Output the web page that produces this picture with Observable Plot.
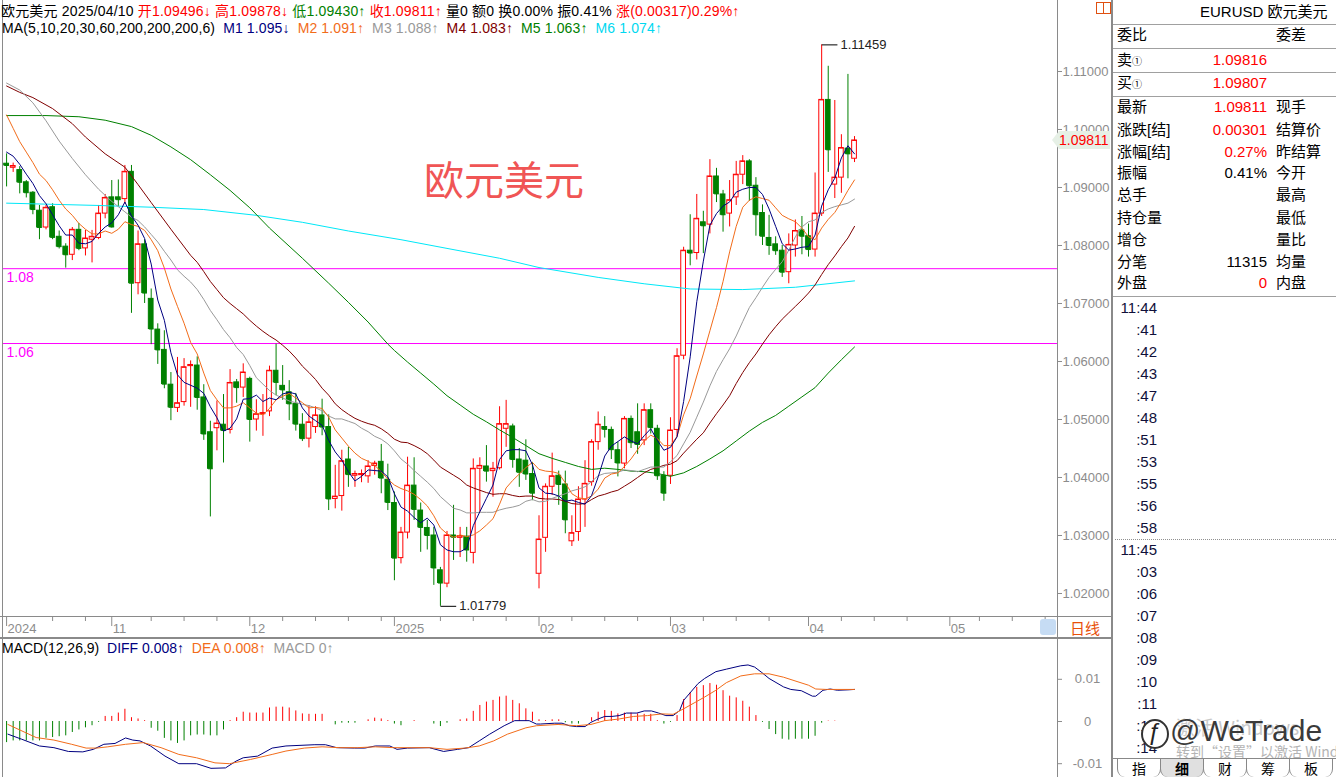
<!DOCTYPE html>
<html><head><meta charset="utf-8">
<script src="https://cdn.jsdelivr.net/npm/d3@7"></script>
<script src="https://cdn.jsdelivr.net/npm/@observablehq/plot@0.6"></script>
<style>
body{margin:0;background:#fff;width:1336px;height:777px;position:relative;overflow:hidden;font-family:"Liberation Sans",Arial,"Noto Sans CJK SC",sans-serif;}
.abs{position:absolute;white-space:nowrap;}
.hdr{font-size:14px;line-height:16px;color:#000;}
.rp{font-size:15px;line-height:20px;color:#000;font-family:"Liberation Sans","Noto Sans CJK SC",sans-serif;}
.tm{font-size:15px;line-height:20px;color:#10103a;text-align:right;width:60px;}
.tab{position:absolute;top:759px;height:18px;width:42px;font-size:14px;line-height:18px;text-align:center;font-family:"Noto Sans CJK SC",sans-serif;border-left:1px solid #888;border-right:1px solid #888;border-radius:0 0 8px 8px;}
</style></head><body>
<div id="main" class="abs" style="left:0;top:0"></div>
<div id="xaxis" class="abs" style="left:0;top:616px"></div>
<div id="macd" class="abs" style="left:0;top:638px"></div>
<div id="overlay"></div>
<script>
// ---------- DATA ----------
const open = [1.0941,1.0934,1.0930,1.0909,1.0891,1.0860,1.0831,1.0866,1.0815,1.0798,1.0784,1.0827,1.0795,1.0810,1.0813,1.0855,1.0883,1.0883,1.0880,1.0927,1.0735,1.0802,1.0708,1.0655,1.0620,1.0560,1.0520,1.0530,1.0592,1.0593,1.0538,1.0478,1.0485,1.0491,1.0482,1.0564,1.0555,1.0570,1.0500,1.0509,1.0514,1.0584,1.0558,1.0547,1.0527,1.0491,1.0467,1.0487,1.0507,1.0487,1.0363,1.0368,1.0431,1.0403,1.0404,1.0402,1.0420,1.0427,1.0396,1.0356,1.0261,1.0305,1.0386,1.0343,1.0313,1.0300,1.0240,1.0217,1.0300,1.0296,1.0298,1.0270,1.0415,1.0419,1.0411,1.0416,1.0484,1.0488,1.0431,1.0429,1.0406,1.0234,1.0296,1.0384,1.0403,1.0388,1.0290,1.0306,1.0362,1.0392,1.0461,1.0487,1.0482,1.0447,1.0424,1.0501,1.0478,1.0464,1.0516,1.0484,1.0403,1.0403,1.0482,1.0610,1.0791,1.0787,1.0840,1.0836,1.0919,1.0888,1.0855,1.0883,1.0922,1.0945,1.0903,1.0856,1.0813,1.0802,1.0791,1.0754,1.0800,1.0826,1.0816,1.0793,1.0855,1.1051,1.0905,1.0917,1.0967,1.09496];
const high = [1.0958,1.0942,1.0936,1.0912,1.0893,1.0869,1.0869,1.0872,1.0825,1.0803,1.0831,1.0838,1.0826,1.0826,1.0869,1.0888,1.0912,1.0913,1.0938,1.0938,1.0825,1.0810,1.0725,1.0665,1.0653,1.0581,1.0607,1.0605,1.0601,1.0608,1.0560,1.0497,1.0532,1.0543,1.0586,1.0569,1.0596,1.0573,1.0534,1.0543,1.0592,1.0630,1.0593,1.0567,1.0545,1.0510,1.0524,1.0522,1.0535,1.0508,1.0421,1.0447,1.0452,1.0411,1.0413,1.0429,1.0428,1.0457,1.0423,1.0375,1.0314,1.0435,1.0434,1.0356,1.0326,1.0314,1.0245,1.0307,1.0352,1.0314,1.0314,1.0432,1.0434,1.0455,1.0426,1.0522,1.0533,1.0492,1.0450,1.0465,1.0426,1.0334,1.0389,1.0442,1.0411,1.0411,1.0334,1.0384,1.0429,1.0465,1.0513,1.0505,1.0487,1.0461,1.0505,1.0506,1.0527,1.0527,1.0527,1.0490,1.0410,1.0503,1.0622,1.0797,1.0853,1.0888,1.0859,1.0948,1.0933,1.0895,1.0912,1.0945,1.0955,1.0948,1.0917,1.0870,1.0852,1.0815,1.0800,1.0820,1.0844,1.0850,1.0837,1.0925,1.11459,1.1109,1.1050,1.0991,1.1095,1.09878];
const low = [1.0901,1.0926,1.0889,1.0882,1.0853,1.0810,1.0827,1.0810,1.0794,1.0761,1.0774,1.0791,1.0782,1.0770,1.0810,1.0846,1.0830,1.0867,1.0871,1.0683,1.0715,1.0700,1.0629,1.0595,1.0553,1.0498,1.0512,1.0523,1.0521,1.0516,1.0464,1.0332,1.0446,1.0425,1.0475,1.0528,1.0538,1.0461,1.0480,1.0471,1.0505,1.0541,1.0533,1.0498,1.0480,1.0462,1.0451,1.0476,1.0472,1.0343,1.0346,1.0342,1.0383,1.0383,1.0391,1.0390,1.0404,1.0372,1.0343,1.0222,1.0251,1.0294,1.0326,1.0271,1.0275,1.0214,1.01779,1.0210,1.0257,1.0262,1.0254,1.0251,1.0340,1.0392,1.0366,1.0413,1.0452,1.0416,1.0383,1.0395,1.0360,1.0208,1.0271,1.0369,1.0352,1.0303,1.0281,1.0290,1.0314,1.0385,1.0447,1.0468,1.0431,1.0401,1.0415,1.0450,1.0440,1.0455,1.0475,1.0395,1.0359,1.0388,1.0470,1.0603,1.0765,1.0775,1.0786,1.0820,1.0874,1.0823,1.0832,1.0869,1.0905,1.0876,1.0816,1.0800,1.0783,1.0783,1.0745,1.0734,1.0780,1.0784,1.0780,1.0780,1.0850,1.0926,1.0881,1.0890,1.0915,1.09430];
const close = [1.0938,1.0937,1.0909,1.0891,1.0862,1.0831,1.0865,1.0814,1.0798,1.0784,1.0827,1.0795,1.0812,1.0815,1.0855,1.0882,1.0832,1.0879,1.0927,1.0735,1.0802,1.0718,1.0656,1.0620,1.0561,1.0521,1.0528,1.0590,1.0594,1.0538,1.0475,1.0415,1.0493,1.0481,1.0563,1.0555,1.0581,1.0500,1.0509,1.0511,1.0584,1.0564,1.0551,1.0527,1.0492,1.0467,1.0495,1.0507,1.0487,1.0363,1.0367,1.0428,1.0405,1.0406,1.0406,1.0419,1.0424,1.0399,1.0357,1.0261,1.0305,1.0386,1.0345,1.0314,1.0300,1.0244,1.0218,1.0300,1.0297,1.0299,1.0275,1.0415,1.0420,1.0411,1.0415,1.0492,1.0492,1.0431,1.0409,1.0406,1.0373,1.0293,1.0384,1.0402,1.0388,1.0327,1.0304,1.0362,1.0389,1.0461,1.0491,1.0483,1.0448,1.0425,1.0501,1.0460,1.0457,1.0516,1.0486,1.0403,1.0373,1.0481,1.0609,1.0791,1.0787,1.0846,1.0834,1.0919,1.0889,1.0853,1.0878,1.0922,1.0945,1.0903,1.0853,1.0816,1.0800,1.0791,1.0754,1.0801,1.0825,1.0816,1.0793,1.0855,1.1051,1.0965,1.0917,1.0968,1.0958,1.09811];

const ma5 = [1.0961,1.0954,1.0940,1.0923,1.0907,1.0886,1.0872,1.0853,1.0834,1.0818,1.0818,1.0804,1.0803,1.0807,1.0821,1.0832,1.0839,1.0853,1.0875,1.0851,1.0835,1.0812,1.0768,1.0706,1.0671,1.0615,1.0577,1.0564,1.0559,1.0554,1.0545,1.0522,1.0503,1.0480,1.0485,1.0501,1.0535,1.0536,1.0542,1.0531,1.0537,1.0534,1.0544,1.0547,1.0544,1.0520,1.0506,1.0498,1.0490,1.0464,1.0444,1.0430,1.0410,1.0394,1.0402,1.0413,1.0412,1.0411,1.0401,1.0372,1.0349,1.0342,1.0331,1.0322,1.0330,1.0318,1.0284,1.0275,1.0272,1.0272,1.0278,1.0317,1.0341,1.0364,1.0387,1.0431,1.0446,1.0448,1.0448,1.0446,1.0422,1.0382,1.0373,1.0372,1.0368,1.0359,1.0361,1.0357,1.0354,1.0369,1.0401,1.0437,1.0454,1.0462,1.0470,1.0463,1.0458,1.0472,1.0484,1.0464,1.0447,1.0452,1.0470,1.0531,1.0608,1.0703,1.0773,1.0835,1.0855,1.0868,1.0875,1.0892,1.0897,1.0900,1.0900,1.0888,1.0863,1.0833,1.0803,1.0792,1.0794,1.0797,1.0798,1.0818,1.0868,1.0896,1.0916,1.0951,1.0972,1.0958];
const ma10 = [1.1025,1.1002,1.0979,1.0961,1.0943,1.0923,1.0912,1.0896,1.0878,1.0863,1.0852,1.0838,1.0828,1.0820,1.0820,1.0825,1.0821,1.0828,1.0841,1.0836,1.0833,1.0826,1.0810,1.0791,1.0761,1.0725,1.0695,1.0666,1.0633,1.0613,1.0580,1.0550,1.0534,1.0520,1.0520,1.0523,1.0529,1.0520,1.0511,1.0508,1.0519,1.0534,1.0540,1.0545,1.0537,1.0529,1.0520,1.0521,1.0519,1.0504,1.0482,1.0468,1.0454,1.0442,1.0433,1.0428,1.0421,1.0410,1.0397,1.0387,1.0381,1.0377,1.0371,1.0362,1.0351,1.0334,1.0313,1.0303,1.0297,1.0301,1.0298,1.0301,1.0308,1.0318,1.0329,1.0354,1.0382,1.0395,1.0406,1.0417,1.0426,1.0414,1.0411,1.0410,1.0407,1.0391,1.0372,1.0365,1.0363,1.0368,1.0380,1.0399,1.0406,1.0408,1.0419,1.0432,1.0448,1.0463,1.0473,1.0467,1.0455,1.0455,1.0471,1.0508,1.0536,1.0575,1.0613,1.0653,1.0693,1.0738,1.0789,1.0833,1.0866,1.0878,1.0884,1.0881,1.0878,1.0865,1.0852,1.0846,1.0841,1.0830,1.0815,1.0810,1.0830,1.0845,1.0857,1.0875,1.0895,1.0913];
const ma20Early = [[0,1.1080],[2,1.1068],[4,1.1046],[6,1.1015],[8,1.0980],[10,1.0950],[12,1.0922],[14,1.0897],[16,1.0876],[18,1.0858]];
const ma20From = 19;
const ma20 = [1.0849,1.0843,1.0832,1.0819,1.0806,1.0790,1.0775,1.0758,1.0747,1.0737,1.0724,1.0707,1.0688,1.0672,1.0655,1.0641,1.0624,1.0612,1.0593,1.0572,1.0561,1.0550,1.0542,1.0537,1.0532,1.0529,1.0526,1.0524,1.0520,1.0515,1.0506,1.0501,1.0501,1.0497,1.0493,1.0485,1.0479,1.0471,1.0466,1.0458,1.0446,1.0432,1.0423,1.0412,1.0402,1.0392,1.0381,1.0367,1.0357,1.0347,1.0344,1.0339,1.0339,1.0340,1.0340,1.0340,1.0344,1.0347,1.0349,1.0352,1.0359,1.0362,1.0358,1.0359,1.0364,1.0368,1.0372,1.0377,1.0380,1.0384,1.0393,1.0403,1.0407,1.0408,1.0409,1.0413,1.0412,1.0410,1.0414,1.0418,1.0418,1.0418,1.0427,1.0438,1.0458,1.0478,1.0504,1.0530,1.0558,1.0583,1.0603,1.0622,1.0644,1.0669,1.0693,1.0710,1.0728,1.0745,1.0759,1.0772,1.0792,1.0815,1.0832,1.0841,1.0844,1.0857,1.0863,1.0867,1.0870,1.0873,1.0880];
const ma30Early = [[0,1.1075],[2,1.1064],[4,1.1055],[7,1.1036],[10,1.1010],[12,1.0987],[15,1.0958],[18,1.0935],[20,1.0905],[22,1.0874],[25,1.0828],[28,1.0783]];
const ma30From = 29;
const ma30 = [1.0771,1.0755,1.0738,1.0724,1.0710,1.0700,1.0691,1.0682,1.0671,1.0661,1.0652,1.0644,1.0637,1.0628,1.0618,1.0606,1.0592,1.0581,1.0569,1.0554,1.0542,1.0527,1.0517,1.0509,1.0502,1.0497,1.0493,1.0490,1.0484,1.0476,1.0466,1.0461,1.0460,1.0455,1.0449,1.0441,1.0430,1.0418,1.0411,1.0404,1.0397,1.0387,1.0382,1.0378,1.0374,1.0371,1.0372,1.0372,1.0369,1.0367,1.0368,1.0368,1.0364,1.0363,1.0363,1.0362,1.0359,1.0355,1.0354,1.0355,1.0362,1.0368,1.0371,1.0375,1.0378,1.0385,1.0392,1.0400,1.0408,1.0414,1.0417,1.0421,1.0423,1.0429,1.0442,1.0454,1.0466,1.0477,1.0494,1.0510,1.0525,1.0541,1.0562,1.0581,1.0598,1.0613,1.0630,1.0646,1.0660,1.0673,1.0684,1.0695,1.0706,1.0718,1.0732,1.0750,1.0767,1.0782,1.0798,1.0813,1.0833];
const ma60 = [[0,1.1024],[6,1.1024],[11,1.1022],[15,1.1016],[19,1.1005],[22,1.0990],[25,1.0970],[28,1.0948],[31,1.0922],[34,1.0895],[37,1.0865],[40,1.0830],[45,1.0778],[49,1.0735],[52,1.0702],[55,1.0668],[58,1.0630],[59,1.0619],[61,1.0599],[63,1.0580],[65,1.0561],[67,1.0541],[69,1.0525],[71,1.0509],[73,1.0496],[75,1.0482],[77,1.0469],[79,1.0455],[81,1.0441],[83,1.0433],[85,1.0426],[87,1.0419],[89,1.0414],[91,1.0416],[93,1.0414],[95,1.0411],[97,1.0410],[99,1.0407],[101,1.0402],[103,1.0408],[105,1.0419],[107,1.0432],[109,1.0446],[111,1.0463],[113,1.0480],[115,1.0495],[117,1.0507],[119,1.0523],[121,1.0539],[123,1.0555],[125,1.0580],[127,1.0603],[129,1.0625]];
const ma200 = [[0,1.0873],[14,1.0869],[22,1.0866],[30,1.0862],[38,1.0852],[45,1.0840],[52,1.0825],[60,1.0810],[67,1.0795],[75,1.0778],[81,1.0762],[90,1.0745],[97,1.0734],[104,1.0725],[112,1.0724],[120,1.0728],[129,1.0739]];

const macdHist = [-0.0050,-0.0046,-0.0046,-0.0046,-0.0046,-0.0046,-0.0040,-0.0038,-0.0036,-0.0034,-0.0026,-0.0020,-0.0015,-0.0010,-0.0002,0.0012,0.0012,0.0020,0.0029,0.0009,0.0006,0.0002,-0.0016,-0.0023,-0.0040,-0.0046,-0.0052,-0.0046,-0.0034,-0.0032,-0.0032,-0.0034,-0.0034,-0.0020,0.0002,0.0009,0.0022,0.0020,0.0020,0.0020,0.0032,0.0034,0.0034,0.0032,0.0025,0.0018,0.0017,0.0017,0.0017,0.0000,-0.0008,-0.0004,-0.0004,-0.0004,0.0000,0.0004,0.0008,0.0006,0.0002,-0.0006,-0.0010,0.0000,0.0002,0.0000,0.0000,-0.0006,-0.0012,-0.0004,0.0000,0.0004,0.0006,0.0024,0.0038,0.0046,0.0050,0.0058,0.0060,0.0050,0.0042,0.0030,0.0022,0.0004,0.0002,0.0004,0.0004,-0.0003,-0.0006,-0.0006,0.0000,0.0009,0.0022,0.0026,0.0024,0.0018,0.0020,0.0020,0.0018,0.0017,0.0017,0.0002,-0.0006,-0.0002,0.0014,0.0052,0.0068,0.0081,0.0085,0.0090,0.0086,0.0073,0.0060,0.0056,0.0048,0.0034,0.0014,-0.0002,-0.0019,-0.0031,-0.0042,-0.0044,-0.0042,-0.0042,-0.0042,-0.0035,-0.0004,0.0001,0.0001,0.0000,0.0000,0.0000];
const diffPts = [[0.2,-0.0030],[2.3,-0.0042],[5.0,-0.0058],[7.2,-0.0062],[9.4,-0.0071],[11.6,-0.0072],[13.2,-0.0066],[14.8,-0.0054],[16.5,-0.0052],[18.1,-0.0039],[19.2,-0.0044],[20.3,-0.0046],[21.9,-0.0058],[24.1,-0.0082],[26.2,-0.0100],[28.9,-0.0100],[31.1,-0.0111],[33.3,-0.0110],[34.9,-0.0094],[36.0,-0.0086],[38.2,-0.0082],[40.4,-0.0063],[42.5,-0.0058],[46.9,-0.0055],[48.5,-0.0055],[50.2,-0.0062],[52.9,-0.0063],[54.5,-0.0063],[56.1,-0.0058],[58.3,-0.0058],[59.4,-0.0066],[61.0,-0.0063],[64.3,-0.0062],[66.5,-0.0071],[68.6,-0.0066],[70.3,-0.0062],[71.9,-0.0046],[73.5,-0.0030],[75.7,-0.0010],[77.3,0.0002],[79.5,0.0002],[80.6,-0.0006],[81.2,-0.0006],[83.4,-0.0004],[84.5,-0.0004],[85.6,-0.0010],[86.7,-0.0012],[88.0,-0.0012],[88.9,-0.0002],[90.0,0.0006],[91.0,0.0012],[92.1,0.0012],[93.2,0.0014],[94.3,0.0020],[95.9,0.0020],[97.0,0.0025],[98.1,0.0025],[99.2,0.0020],[100.3,0.0014],[101.4,0.0014],[102.4,0.0026],[103.0,0.0050],[104.1,0.0070],[105.2,0.0090],[106.2,0.0102],[107.9,0.0118],[109.5,0.0124],[111.7,0.0132],[112.8,0.0134],[113.8,0.0129],[114.9,0.0116],[116.0,0.0102],[118.2,0.0082],[119.3,0.0076],[120.9,0.0073],[122.6,0.0060],[123.1,0.0060],[124.2,0.0074],[125.3,0.0077],[126.4,0.0074],[128,0.0075],[129,0.0076]];
const deaPts = [[0.2,-0.0007],[4.5,-0.0038],[7.2,-0.0044],[9.9,-0.0054],[12.1,-0.0063],[13.7,-0.0063],[15.4,-0.0060],[18.1,-0.0054],[20.8,-0.0050],[23.5,-0.0062],[26.2,-0.0078],[28.9,-0.0086],[31.7,-0.0098],[33.9,-0.0100],[37.1,-0.0090],[40.4,-0.0078],[42.5,-0.0070],[45.3,-0.0063],[48.0,-0.0060],[50.7,-0.0062],[53.4,-0.0062],[56.1,-0.0060],[58.9,-0.0062],[61.6,-0.0062],[64.3,-0.0062],[67.0,-0.0066],[69.7,-0.0063],[71.9,-0.0058],[74.1,-0.0046],[76.2,-0.0030],[79.0,-0.0015],[80.6,-0.0010],[83.9,-0.0007],[86.7,-0.0010],[88.9,-0.0007],[91.0,0.0002],[93.2,0.0006],[95.4,0.0012],[97.5,0.0014],[99.7,0.0018],[101.4,0.0017],[103.0,0.0030],[104.6,0.0044],[106.2,0.0058],[107.9,0.0074],[109.5,0.0092],[111.7,0.0108],[113.8,0.0113],[116.0,0.0113],[118.2,0.0105],[120.4,0.0094],[122.0,0.0086],[123.1,0.0077],[124.7,0.0076],[129,0.0076]];

const priceTicks = [1.02,1.03,1.04,1.05,1.06,1.07,1.08,1.09,1.10,1.11];
const macdTicks = [0.01,0,-0.01];
const macdTickLabels = ["0.01","0","-0.01"];
const monthTickIdx = [0,16,37,59,81,101,122,143.5];
const monthTickLabels = ["2024","11","12","2025","02","03","04","05"];
const weekTickIdx = [7,12,22,27,32,42,47,52,57,66,71,76,86,91,96,106,111,116,127,132,137,148,153,158];
const levelValues = [1.0760,1.0631];
const levelLabels = ["1.08","1.06"];

// ---------- CHART ----------
const RED = "#ff0000", GRN = "#008000";
const N = close.length;
const candles = d3.range(N).map(i => ({i, open:open[i], high:high[i], low:low[i], close:close[i], up: close[i] >= open[i]}));
const xDomain = [-0.47, 159.88];
const fontFam = "Liberation Sans, Arial, Noto Sans CJK SC, sans-serif";
const P = d => ({x: d[0], y: d[1]});
const seq = (from, arr) => arr.map((v, k) => ({x: from + k, y: v}));
const lines = [
  {pts: ma200.map(P), c: "#00e8f8"},
  {pts: ma60.map(P), c: "#008000"},
  {pts: ma30Early.map(P).concat(seq(ma30From, ma30)), c: "#800000"},
  {pts: ma20Early.map(P).concat(seq(ma20From, ma20)), c: "#999999"},
  {pts: seq(0, ma10), c: "#f26c1a"},
  {pts: seq(0, ma5), c: "#000080"}
];
const hiIdx = d3.maxIndex(high), loIdx = d3.minIndex(low);
const ann = [
  {x1: hiIdx, x2: hiIdx + 2.4, y: high[hiIdx], t: high[hiIdx].toFixed(5)},
  {x1: loIdx, x2: loIdx + 2.4, y: low[loIdx], t: low[loIdx].toFixed(5)}
];

const main = Plot.plot({
  width: 1110, height: 616, marginLeft: 3, marginRight: 53, marginTop: 0, marginBottom: 0,
  x: {domain: xDomain, axis: null},
  y: {domain: [1.016034, 1.122241]},
  style: {background: "transparent", fontFamily: fontFam, fontSize: "13px", color: "#8c8c8c"},
  marks: [
    Plot.axisY({anchor: "right", ticks: priceTicks, tickFormat: d => d.toFixed(5), tickSize: 4, tickPadding: 1}),
    Plot.ruleY(levelValues, {stroke: "#ff00ff"}),
    Plot.text(levelValues.map((v, k) => ({v, t: levelLabels[k]})), {x: xDomain[0], y: "v", text: "t", dx: 3, dy: 9, textAnchor: "start", fill: "#ff00ff", fontSize: 14}),
    Plot.ruleX(candles, {x: "i", y1: "low", y2: "high", stroke: d => d.up ? RED : GRN}),
    Plot.rect(candles, {x1: d => d.i - 0.36, x2: d => d.i + 0.36, y1: "open", y2: "close", fill: d => d.up ? "#ffffff" : GRN, stroke: d => d.up ? RED : GRN}),
    Plot.link(candles, {x1: d => d.i - 0.36, x2: d => d.i + 0.36, y1: "close", y2: "close", stroke: d => d.up ? RED : GRN}),
    ...lines.map(l => Plot.line(l.pts, {x: "x", y: "y", stroke: l.c, strokeWidth: 1, clip: true})),
    Plot.link(ann, {x1: "x1", x2: "x2", y1: "y", y2: "y", stroke: "#000"}),
    Plot.text(ann, {x: "x2", y: "y", text: "t", dx: 3, textAnchor: "start", fill: "#222", fontSize: 13})
  ]
});
document.getElementById("main").appendChild(main);

const xax = Plot.plot({
  width: 1110, height: 22, marginLeft: 3, marginRight: 53, marginTop: 0, marginBottom: 0,
  x: {domain: xDomain, axis: null},
  y: {domain: [0, 22], range: [0, 22], axis: null},
  style: {background: "transparent", fontFamily: fontFam, fontSize: "13px", color: "#8c8c8c"},
  marks: [
    Plot.ruleX(weekTickIdx, {y1: 0, y2: 5, stroke: "#8c8c8c"}),
    Plot.ruleX(monthTickIdx, {y1: 0, y2: 10, stroke: "#8c8c8c"}),
    Plot.text(monthTickIdx.map((v, k) => ({v, t: monthTickLabels[k]})), {x: "v", y: 12, text: "t", dx: 1, textAnchor: "start", fill: "#8c8c8c", fontSize: 13})
  ]
});
document.getElementById("xaxis").appendChild(xax);

const hist = macdHist.map((v, i) => ({i, v}));
const macd = Plot.plot({
  width: 1110, height: 139, marginLeft: 3, marginRight: 53, marginTop: 0, marginBottom: 0,
  x: {domain: xDomain, axis: null},
  y: {domain: [-0.01327, 0.019668]},
  style: {background: "transparent", fontFamily: fontFam, fontSize: "13px", color: "#8c8c8c"},
  marks: [
    Plot.axisY({anchor: "right", ticks: macdTicks, tickFormat: d => macdTickLabels[macdTicks.indexOf(d)], tickSize: 4, tickPadding: 26, textAnchor: "middle"}),
    Plot.ruleX(hist, {x: "i", y1: 0, y2: "v", stroke: d => d.v >= 0 ? RED : GRN}),
    Plot.line(diffPts.map(P), {x: "x", y: "y", stroke: "#000080", strokeWidth: 1}),
    Plot.line(deaPts.map(P), {x: "x", y: "y", stroke: "#f26c1a", strokeWidth: 1})
  ]
});
document.getElementById("macd").appendChild(macd);

// ---------- OVERLAYS ----------
const ov = document.getElementById("overlay");
function add(html, style, cls) { const d = document.createElement("div"); d.className = "abs " + (cls || ""); d.setAttribute("style", style); d.innerHTML = html; ov.appendChild(d); return d; }
function line(l, t, w, h, c) { add("", `left:${l}px;top:${t}px;width:${w}px;height:${h}px;background:${c || "#8a8a8a"}`); }

// frame lines
line(2, 0, 1, 777); line(1057, 0, 1, 777); line(1111, 0, 2, 777);
line(0, 616, 1112, 1); line(0, 637, 1112, 2);

// header text
add(`<span>欧元美元 2025/04/10 </span><span style="color:#f00">开1.09496↓ 高1.09878↓ </span><span style="color:#008000">低1.09430↑ </span><span style="color:#f00">收1.09811↑ </span><span>量0 额0 换0.00% 振0.41% </span><span style="color:#f00">涨(0.00317)0.29%↑</span>`, "left:1px;top:3px;letter-spacing:0.18px", "hdr");
add(`<span>MA(5,10,20,30,60,200,200,200,6)</span>&nbsp;&nbsp;<span style="color:#000080">M1 1.095↓</span>&nbsp;&nbsp;<span style="color:#f26c1a">M2 1.091↑</span>&nbsp;&nbsp;<span style="color:#999">M3 1.088↑</span>&nbsp;&nbsp;<span style="color:#800000">M4 1.083↑</span>&nbsp;&nbsp;<span style="color:#008000">M5 1.063↑</span>&nbsp;&nbsp;<span style="color:#00d8f0">M6 1.074↑</span>`, "left:2px;top:20px;letter-spacing:0.12px", "hdr");
add("欧元美元", "left:424px;top:155px;font-size:40px;line-height:46px;color:#f05555;font-family:'Noto Sans CJK SC',sans-serif");
add(`<span>MACD(12,26,9)</span>&nbsp;&nbsp;<span style="color:#000080">DIFF 0.008↑</span>&nbsp;&nbsp;<span style="color:#f26c1a">DEA 0.008↑</span>&nbsp;&nbsp;<span style="color:#999">MACD 0↑</span>`, "left:2px;top:640px", "hdr");

// current price box
const yLast = main.scale("y").apply(close[N - 1]);
add("", `left:1052px;top:${yLast - 9}px;width:0;height:0;border-top:9px solid transparent;border-bottom:9px solid transparent;border-right:7px solid #e6f0e6`);
add(close[N - 1].toFixed(5), `left:1059px;top:${yLast - 9}px;width:51px;height:18px;background:#e6f0e6;color:#f00;font-size:14px;line-height:18px`);

// x-axis strip right
add("", "left:1040px;top:619px;width:16px;height:16px;background:#c6dcf4;border-radius:3px");
add("日线", "left:1070px;top:618px;font-size:15px;line-height:20px;color:#e8500a;font-family:'Noto Sans CJK SC',sans-serif");
// icon
add("", "left:1096px;top:2px;width:6px;height:10px;border:1px solid #e05010");
add("", "left:1103px;top:2px;width:6px;height:10px;border:1px solid #e05010");

// right panel
add("EURUSD 欧元美元", "left:1200px;top:2px;font-size:15px;line-height:20px;color:#000;font-family:'Liberation Sans','Noto Sans CJK SC',sans-serif");
[24, 48, 72, 96, 296].forEach(y => line(1113, y, 223, 1, "#a0a0a0"));
const rows = [
  {y: 35, l: "委比", r: "委差"},
  {y: 60, l: "卖<span style='font-size:10px'>①</span>", v: "1.09816", c: "#f00"},
  {y: 83, l: "买<span style='font-size:10px'>①</span>", v: "1.09807", c: "#f00"},
  {y: 107, l: "最新", v: "1.09811", c: "#f00", r: "现手"},
  {y: 130, l: "涨跌[结]", v: "0.00301", c: "#f00", r: "结算价"},
  {y: 151.5, l: "涨幅[结]", v: "0.27%", c: "#f00", r: "昨结算"},
  {y: 173, l: "振幅", v: "0.41%", c: "#000", r: "今开"},
  {y: 195, l: "总手", r: "最高"},
  {y: 218, l: "持仓量", r: "最低"},
  {y: 240, l: "增仓", r: "量比"},
  {y: 261.5, l: "分笔", v: "11315", c: "#000", r: "均量"},
  {y: 283, l: "外盘", v: "0", c: "#f00", r: "内盘"}
];
rows.forEach(r => {
  add(r.l, `left:1117px;top:${r.y - 10}px`, "rp");
  if (r.v) add(r.v, `left:1167px;top:${r.y - 10}px;width:100px;text-align:right;color:${r.c}`, "rp");
  if (r.r) add(r.r, `left:1276px;top:${r.y - 10}px`, "rp");
});
const times = ["11:44", ":41", ":42", ":43", ":47", ":48", ":51", ":53", ":55", ":56", ":58", "11:45", ":03", ":06", ":07", ":08", ":09", ":10", ":11", ":13", ":14"];
const timeY = [308, 330, 352, 374, 396, 418, 440, 462, 484, 506, 528, 550, 572, 594, 616, 638, 660, 682, 704, 726, 748];
times.forEach((t, k) => add(t, `left:1097px;top:${timeY[k] - 10}px`, "tm"));
add("", "left:1115px;top:539px;width:221px;height:0;border-top:1px dotted #909090");

// watermarks
add("激活 Windows", "left:1176px;top:716px;font-size:19px;line-height:22px;color:#c8c8c8;font-family:'Noto Sans CJK SC',sans-serif");
add("", "left:1141px;top:719px;width:24px;height:26px;border:2px solid #333;border-radius:50%;background:#fff");
add("ƒ", "left:1147px;top:718px;font-size:24px;line-height:28px;color:#222;font-style:italic");
add("@WeTrade", "left:1170px;top:714px;font-size:30px;line-height:34px;color:#3a3a3a;text-shadow:0 0 2px #fff,0 0 2px #fff");
add("转到“设置”以激活 Windows", "left:1176px;top:742px;font-size:14px;line-height:18px;color:#b4b4b4;font-family:'Noto Sans CJK SC',sans-serif");

// tabs
line(1113, 758, 223, 1, "#888");
const tabs = ["指", "细", "财", "筹", "板"];
tabs.forEach((t, k) => add(t, `left:${1117 + k * 43}px;${k === 1 ? "background:#e0e0e0;font-weight:bold;" : "background:#fff;"}`, "tab"));
</script>
</body></html>
